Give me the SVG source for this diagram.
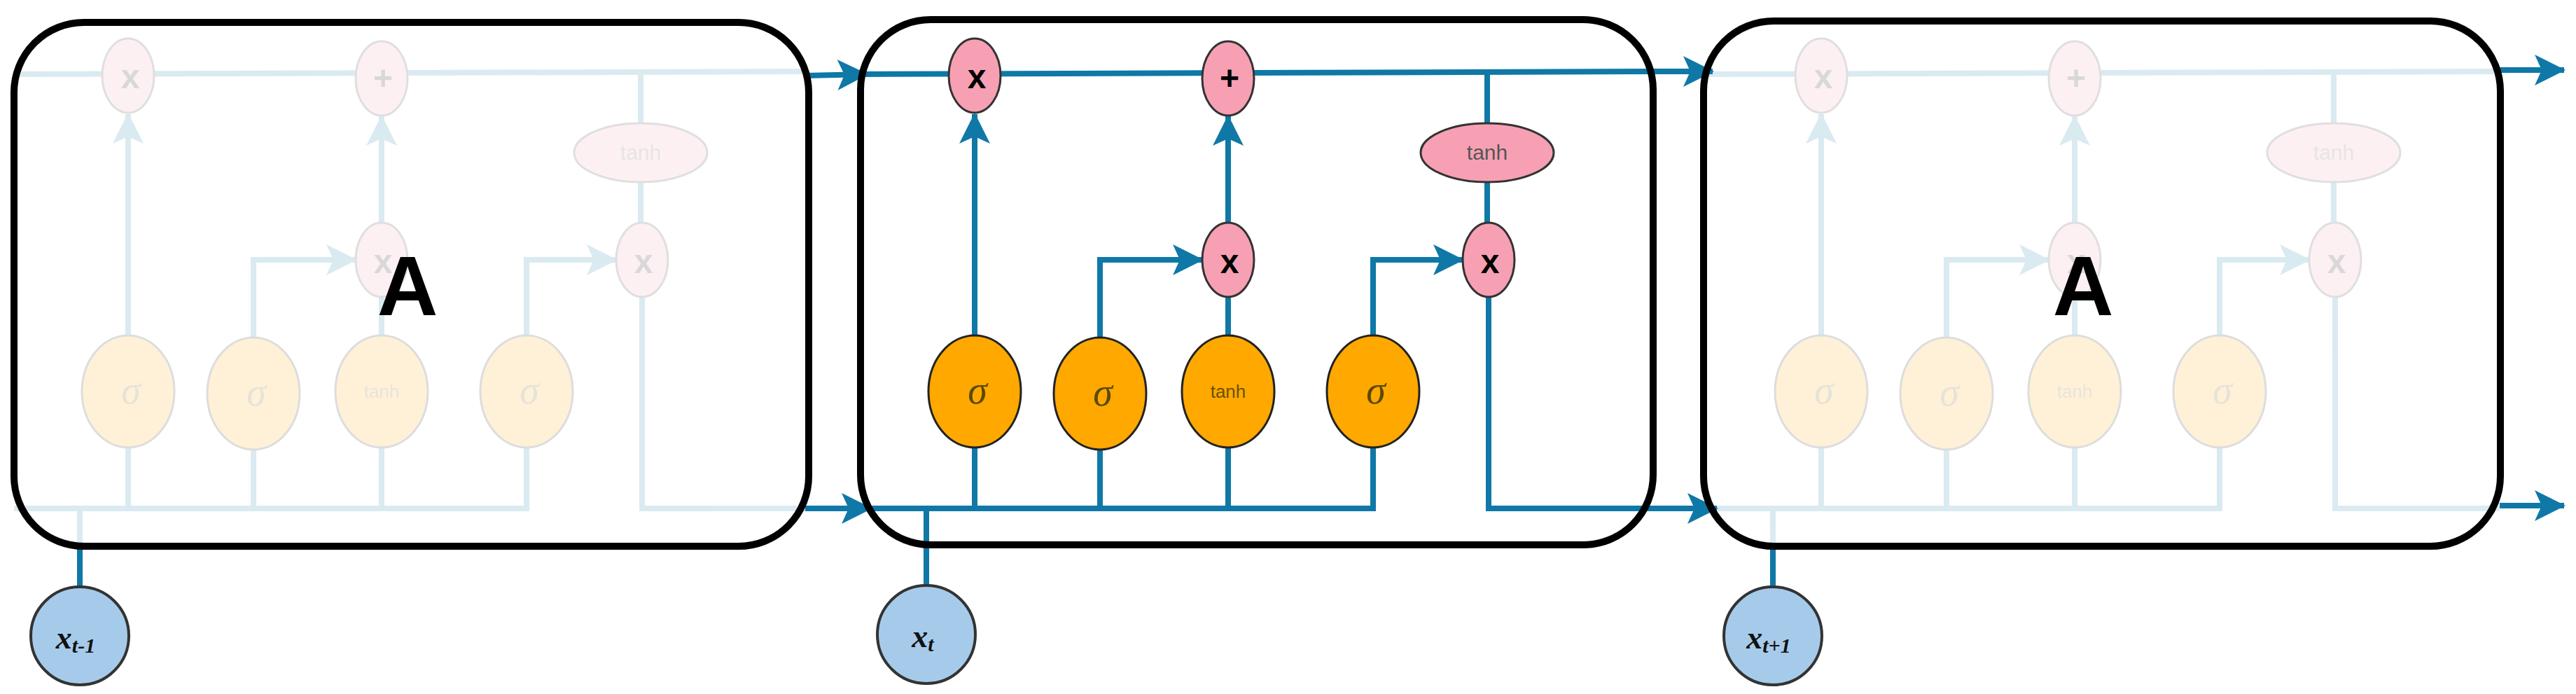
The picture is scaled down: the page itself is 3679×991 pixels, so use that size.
<svg xmlns="http://www.w3.org/2000/svg" xmlns:xlink="http://www.w3.org/1999/xlink" width="3679" height="991" viewBox="0 0 3679 991">
<style>
.ln{fill:none;stroke:#0f78a6;stroke-width:8}
.box{fill:none;stroke:#000;stroke-width:10}
.pk{fill:#f7a0b4;stroke:#333;stroke-width:3}
.or{fill:#ffa800;stroke:#222;stroke-width:3}
.in{fill:#a6cbea;stroke:#333;stroke-width:4}
.op{font-family:"Liberation Sans",Arial,sans-serif;font-weight:bold;font-size:48px;fill:#000;text-anchor:middle}
.sg{font-family:"Liberation Serif","Times New Roman",serif;font-style:italic;font-size:56px;fill:#5a4a00;text-anchor:middle}
.th{font-family:"Liberation Sans",Arial,sans-serif;font-size:26px;fill:#6a5200;text-anchor:middle}
.tp{font-family:"Liberation Sans",Arial,sans-serif;font-size:30px;fill:#555;text-anchor:middle}
.xi{font-family:"Liberation Serif","Times New Roman",serif;font-style:italic;font-weight:bold;font-size:46px;fill:#111;text-anchor:middle}
.A{font-family:"Liberation Sans",Arial,sans-serif;font-weight:bold;font-size:120px;fill:#000;text-anchor:middle}
</style>
<defs>
<marker id="ar" markerUnits="userSpaceOnUse" markerWidth="44" markerHeight="44" refX="42" refY="22" orient="auto"><path d="M0,0 L44,22 L0,44 L10,22 z" fill="#0f78a6"/></marker>
<g id="cell">
<g id="cell-conn">
<path class="ln" d="M1229,106 L2361,102"/>
<path class="ln" d="M2124,102 V176 M2124,260 V318"/>
<path class="ln" d="M2126,424 V726 H2361"/>
<path class="ln" d="M1229,726 H1961 V639"/>
<path class="ln" d="M1392,726 V639 M1571,726 V642 M1754,726 V639 M1754,479 V424 M1323,726 V777"/>
<path class="ln" d="M1392,479 V163" marker-end="url(#ar)"/>
<path class="ln" d="M1571,482 V371 H1717" marker-end="url(#ar)"/>
<path class="ln" d="M1754,318 V166" marker-end="url(#ar)"/>
<path class="ln" d="M1961,479 V371 H2089" marker-end="url(#ar)"/>
</g>
<g id="g-forget"><ellipse class="pk" cx="1392" cy="108" rx="37" ry="53"/><text class="op" x="1395" y="126">x</text></g>
<g id="g-add"><ellipse class="pk" cx="1754" cy="112" rx="37" ry="53"/><text class="op" x="1756" y="128">+</text></g>
<g id="g-tanh2"><ellipse class="pk" cx="2124" cy="218" rx="95" ry="42"/><text class="tp" x="2124" y="228">tanh</text></g>
<g id="g-input"><ellipse class="pk" cx="1754" cy="371" rx="37" ry="53"/><text class="op" x="1756" y="390">x</text></g>
<g id="g-output"><ellipse class="pk" cx="2126" cy="371" rx="37" ry="53"/><text class="op" x="2128" y="390">x</text></g>
<g id="s1"><ellipse class="or" cx="1392" cy="559" rx="66" ry="80"/><text class="sg" x="1396" y="576">σ</text></g>
<g id="s2"><ellipse class="or" cx="1571" cy="562" rx="66" ry="80"/><text class="sg" x="1575" y="579">σ</text></g>
<g id="t1"><ellipse class="or" cx="1754" cy="559" rx="66" ry="80"/><text class="th" x="1754" y="568">tanh</text></g>
<g id="s3"><ellipse class="or" cx="1961" cy="559" rx="66" ry="80"/><text class="sg" x="1965" y="576">σ</text></g>
</g>
</defs>
<use xlink:href="#cell" transform="translate(-1209,0)" opacity="0.15"/>
<use xlink:href="#cell"/>
<use xlink:href="#cell" transform="translate(1209,0)" opacity="0.15"/>
<g id="connectors">
<path class="ln" d="M1150,108 L1238,106" marker-end="url(#ar)"/>
<path class="ln" d="M1150,726 L1244,726" marker-end="url(#ar)"/>
<path class="ln" d="M2361,102 L2446,102" marker-end="url(#ar)"/>
<path class="ln" d="M2361,726 L2452,726" marker-end="url(#ar)"/>
<path class="ln" d="M3570,100 L3662,100" marker-end="url(#ar)"/>
<path class="ln" d="M3570,722 L3662,722" marker-end="url(#ar)"/>
<path class="ln" d="M114,777 V838 M1323,777 V838 M2532,777 V838"/>
</g>
<g id="box-left"><rect class="box" x="20" y="32" width="1135" height="748" rx="100"/><text class="A" x="582" y="450">A</text></g>
<g id="box-mid"><rect class="box" x="1229" y="28" width="1132" height="750" rx="100"/></g>
<g id="box-right"><rect class="box" x="2433" y="30" width="1138" height="750" rx="100"/><text class="A" x="2975" y="450">A</text></g>
<g id="x-prev"><circle class="in" cx="114" cy="908" r="70"/><text class="xi" x="108" y="926">x<tspan font-size="30" dy="6">t-1</tspan></text></g>
<g id="x-cur"><circle class="in" cx="1323" cy="906" r="70"/><text class="xi" x="1318" y="924">x<tspan font-size="30" dy="6">t</tspan></text></g>
<g id="x-next"><circle class="in" cx="2532" cy="908" r="70"/><text class="xi" x="2526" y="926">x<tspan font-size="30" dy="6">t+1</tspan></text></g>
</svg>
